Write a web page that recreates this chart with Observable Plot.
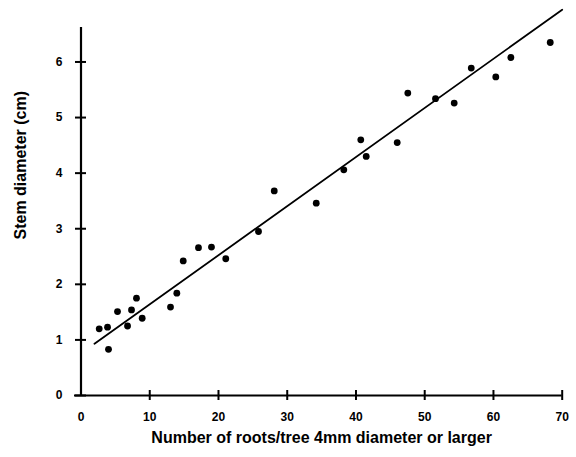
<!DOCTYPE html>
<html><head><meta charset="utf-8">
<script src="https://cdn.jsdelivr.net/npm/d3@7"></script>
<script src="https://cdn.jsdelivr.net/npm/@observablehq/plot@0.6"></script>
<style>body{margin:0;background:#fff}</style>
</head><body><div id="chart"></div>
<script>
// Data
const rootsX = [2.65, 3.86, 4.00, 5.31, 6.77, 7.35, 8.07, 8.90, 13.02, 13.94,
                14.87, 17.09, 18.98, 21.06, 25.82, 28.11, 34.22, 38.23, 40.70, 41.49,
                46.00, 47.54, 51.57, 54.29, 56.77, 60.34, 62.53, 68.26];
const stemY  = [1.20, 1.23, 0.83, 1.51, 1.25, 1.54, 1.75, 1.39, 1.59, 1.84,
                2.42, 2.66, 2.67, 2.46, 2.95, 3.68, 3.46, 4.06, 4.60, 4.30,
                4.55, 5.44, 5.34, 5.26, 5.89, 5.73, 6.08, 6.35];
const fitX = [1.96, 70];
const fitY = [0.93, 6.94];
const xTicks = [0, 10, 20, 30, 40, 50, 60, 70];
const yTicks = [0, 1, 2, 3, 4, 5, 6];
const yTop = 6.62;
const xTitle = "Number of roots/tree 4mm diameter or larger";
const yTitle = "Stem diameter (cm)";

const points = rootsX.map((x, i) => ({x, y: stemY[i]}));
const fit = fitX.map((x, i) => ({x, y: fitY[i]}));
const xMin = xTicks[0], xMax = xTicks[xTicks.length - 1];

const chart = Plot.plot({
  width: 576, height: 457,
  marginLeft: 80.5, marginRight: 14.3, marginTop: 27, marginBottom: 62,
  style: {fontFamily: "'Liberation Sans', Arial, sans-serif", fontWeight: "bold", fontSize: "12px", background: "#fff", color: "#000"},
  x: {domain: [xMin, xMax]},
  y: {domain: [0, yTop]},
  marks: [
    Plot.ruleX([xMin], {stroke: "#000", strokeWidth: 2.2}),
    Plot.ruleY([0], {x1: () => xMin, x2: () => xMax, stroke: "#000", strokeWidth: 2.2, insetLeft: -6.5}),
    Plot.ruleX(xTicks.filter(d => d > xMin), {x: d => d, y1: () => 0, y2: () => 0, insetTop: -5, insetBottom: -5, stroke: "#000", strokeWidth: 2}),
    Plot.ruleY(yTicks, {y: d => d, x1: () => xMin, x2: () => xMin, insetLeft: -5.5, insetRight: -5.5, stroke: "#000", strokeWidth: 2}),
    Plot.axisX({ticks: xTicks, tickSize: 0, tickPadding: 17, label: null, tickFormat: d => String(d)}),
    Plot.axisY({ticks: yTicks, tickSize: 0, tickPadding: 18.5, label: null, tickFormat: d => String(d)}),
    Plot.line(fit, {x: "x", y: "y", stroke: "#000", strokeWidth: 1.8}),
    Plot.dot(points, {x: "x", y: "y", r: 3.4, fill: "#000", stroke: "none"}),
    Plot.text([xTitle], {text: d => d, frameAnchor: "bottom", dy: 42, fontSize: 16, lineAnchor: "middle"}),
    Plot.text([yTitle], {text: d => d, frameAnchor: "left", rotate: -90, dx: -60, dy: 28, fontSize: 16, lineAnchor: "middle"})
  ]
});
document.getElementById("chart").appendChild(chart);
</script>
</body></html>
